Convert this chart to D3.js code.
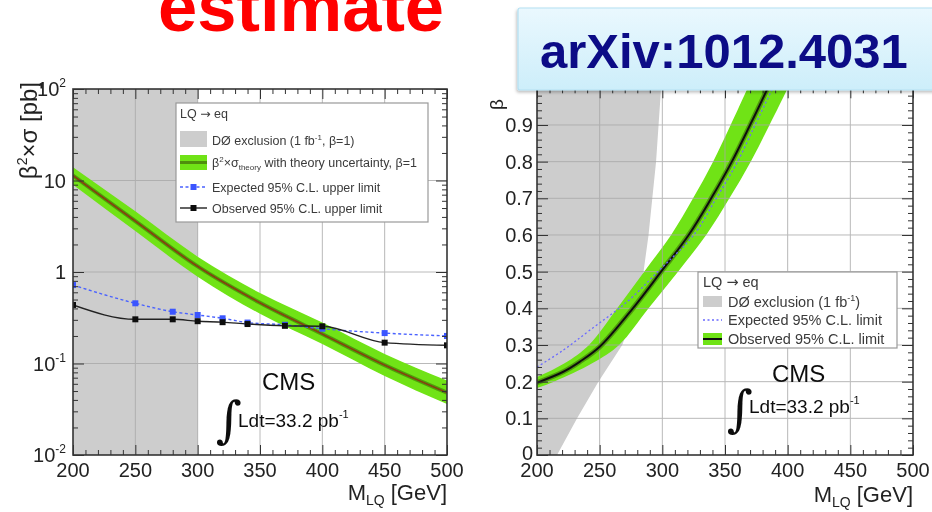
<!DOCTYPE html>
<html><head><meta charset="utf-8">
<script src="https://cdn.jsdelivr.net/npm/d3@7"></script>
<style>
html,body{margin:0;padding:0;background:#fff;}
svg{display:block;font-family:"Liberation Sans",Arial,Helvetica,sans-serif;}
</style>
</head><body><script>
// ---------- data ----------
const massTicks = [200, 250, 300, 350, 400, 450, 500];

// Left panel: beta^2 x sigma limits (pb) vs M_LQ (GeV)
const limitMass    = [200, 250, 280, 300, 320, 340, 370, 400, 450, 500];
const expectedXsec = [0.72, 0.455, 0.368, 0.339, 0.312, 0.28, 0.265, 0.24, 0.215, 0.2];
const observedXsec = [0.436, 0.304, 0.304, 0.29, 0.283, 0.27, 0.258, 0.255, 0.169, 0.158];
const theoryMass     = [200, 250, 300, 350, 400, 450, 500];
const theoryXsec     = [11.3, 3.6, 1.15, 0.46, 0.21, 0.096, 0.048];
const theoryXsecHigh = [14.0, 4.6, 1.47, 0.59, 0.28, 0.127, 0.065];
const theoryXsecLow  = [9.0, 2.8, 0.89, 0.35, 0.163, 0.073, 0.036];
const d0ExcludedMass = [200, 300];   // D0 exclusion at beta = 1

const leftYTickValues = [0.01, 0.1, 1, 10, 100];
const leftYTickBase   = ["10", "10", "1", "10", "10"];
const leftYTickExp    = ["-2", "-1", "", "", "2"];

// Right panel: beta limit vs M_LQ (GeV)
const observedBetaMass = [200, 221, 234, 250, 276.5, 299, 321, 339, 355.5, 370, 384, 390.5];
const observedBeta     = [0.197, 0.227, 0.254, 0.295, 0.4, 0.5, 0.6, 0.7, 0.8, 0.9, 1.0, 1.05];
const expectedBetaMass = [200, 221, 242, 272.6, 297.6, 325, 343, 360, 374, 388];
const expectedBeta     = [0.24, 0.286, 0.34, 0.42, 0.504, 0.6, 0.7, 0.8, 0.9, 1.0];
// theory-uncertainty band around the observed limit, edges given at common beta levels
const bandBeta      = [0.17, 0.2, 0.25, 0.3, 0.4, 0.5, 0.6, 0.7, 0.8, 0.9, 1.0, 1.05];
const bandUpperMass = [167, 191.5, 222, 241.5, 264, 285.5, 307, 324.5, 340.5, 354.5, 368, 374.5];
const bandLowerMass = [189, 213.5, 244, 265.5, 289, 312.5, 335, 353.5, 370.5, 385.5, 400, 406.5];
// D0 excluded region (1 fb^-1)
const d0BetaMass = [200, 216, 232, 249, 268, 279, 285, 289, 292, 295, 297, 299, 200];
const d0Beta     = [0, 0, 0.1, 0.2, 0.3, 0.4, 0.5, 0.6, 0.7, 0.8, 0.9, 1.0, 1.0];
const rightYTickValues = [0, 0.1, 0.2, 0.3, 0.4, 0.5, 0.6, 0.7, 0.8, 0.9];

// ---------- setup ----------
const W = 932, H = 512;
const svg = d3.select("body").append("svg").attr("width", W).attr("height", H);
const defs = svg.append("defs");
defs.append("filter").attr("id", "soft").attr("x", "-5%").attr("y", "-5%").attr("width", "110%").attr("height", "110%")
  .append("feGaussianBlur").attr("stdDeviation", 0.45);

const zip = (a, b) => a.map((v, i) => [v, b[i]]);

const xL = d3.scaleLinear().domain([200, 500]).range([73, 447]);
const yL = d3.scaleLog().domain([0.01, 100]).range([455, 89]);
const xR = d3.scaleLinear().domain([200, 500]).range([537, 913]);
const yR = d3.scaleLinear().domain([0, 1]).range([455, 88.3]);

function addClip(id, x, y) {
  defs.append("clipPath").attr("id", id).append("rect")
    .attr("x", x.range()[0]).attr("y", y.range()[1])
    .attr("width", x.range()[1] - x.range()[0]).attr("height", y.range()[0] - y.range()[1]);
}
addClip("clipL", xL, yL);
addClip("clipR", xR, yR);

const GRID = "#a8a8a8", AXIS = "#333";

function grid(g, x, y, xv, yv) {
  const gg = g.append("g").attr("stroke", GRID).attr("stroke-width", 1).attr("opacity", 0.8);
  gg.selectAll(".gx").data(xv).join("line").attr("x1", d => x(d)).attr("x2", d => x(d))
    .attr("y1", y.range()[0]).attr("y2", y.range()[1]);
  gg.selectAll(".gy").data(yv).join("line").attr("y1", d => y(d)).attr("y2", d => y(d))
    .attr("x1", x.range()[0]).attr("x2", x.range()[1]);
}

function ticksAndFrame(g, x, y, yMajor, yMinor) {
  const [x0, x1] = x.range(), [y1, y0] = y.range();
  const xMinor = x.ticks(30).filter(v => !massTicks.includes(v));
  const strip = s => { s.select(".domain").remove(); s.selectAll("line").attr("stroke", AXIS); };
  const put = (axis, tx, ty) => g.append("g").attr("transform", `translate(${tx},${ty})`).call(axis).call(strip);
  // bottom / top
  put(d3.axisBottom(x).tickValues(massTicks).tickSize(-10).tickFormat(""), 0, y1);
  put(d3.axisBottom(x).tickValues(xMinor).tickSize(-5).tickFormat(""), 0, y1);
  put(d3.axisTop(x).tickValues(massTicks).tickSize(-10).tickFormat(""), 0, y0);
  put(d3.axisTop(x).tickValues(xMinor).tickSize(-5).tickFormat(""), 0, y0);
  // left / right
  put(d3.axisLeft(y).tickValues(yMajor).tickSize(-11).tickFormat(""), x0, 0);
  put(d3.axisLeft(y).tickValues(yMinor).tickSize(-5).tickFormat(""), x0, 0);
  put(d3.axisRight(y).tickValues(yMajor).tickSize(-11).tickFormat(""), x1, 0);
  put(d3.axisRight(y).tickValues(yMinor).tickSize(-5).tickFormat(""), x1, 0);
  g.append("rect").attr("x", x0).attr("y", y0).attr("width", x1 - x0).attr("height", y1 - y0)
    .attr("fill", "none").attr("stroke", AXIS).attr("stroke-width", 1.6);
  // x tick labels
  g.append("g").selectAll("text").data(massTicks).join("text")
    .attr("x", d => x(d)).attr("y", 477).attr("text-anchor", "middle")
    .attr("font-size", 20).attr("fill", "#222").text(d => d);
}

function xTitle(g, xEnd, yBase) {
  const t = g.append("text").attr("x", xEnd).attr("y", yBase).attr("text-anchor", "end")
    .attr("font-size", 22).attr("fill", "#222");
  t.append("tspan").text("M");
  t.append("tspan").attr("font-size", 14).attr("dy", 5).text("LQ");
  t.append("tspan").attr("dy", -5).text(" [GeV]");
}

function lumiLabel(g, xCms, yCms, xInt, yInt, yText) {
  g.append("text").attr("x", xCms).attr("y", yCms).attr("font-size", 24).attr("fill", "#111").text("CMS");
  g.append("text").attr("x", xInt).attr("y", yInt).attr("font-size", 50)
    .attr("font-family", "DejaVu Serif, serif").attr("fill", "#111").text("∫");
  const t = g.append("text").attr("x", xInt + 22).attr("y", yText).attr("font-size", 19).attr("fill", "#111");
  t.append("tspan").text("Ldt=33.2 pb");
  t.append("tspan").attr("font-size", 11).attr("dy", -9).text("-1");
}

// "LQ → eq" header line of a legend
function channelLabel(parent, x, y, size) {
  const t = parent.append("text").attr("x", x).attr("y", y).attr("font-size", size).attr("fill", "#3a3a3a");
  t.append("tspan").text("LQ ");
  t.append("tspan").attr("font-family", "DejaVu Sans, sans-serif").text("→");
  t.append("tspan").text(" eq");
}

// ---------- left panel ----------
const gL = svg.append("g").attr("filter", "url(#soft)");
const plotL = gL.append("g").attr("clip-path", "url(#clipL)");

plotL.append("rect").attr("x", xL(d0ExcludedMass[0])).attr("y", yL.range()[1])
  .attr("width", xL(d0ExcludedMass[1]) - xL(d0ExcludedMass[0]))
  .attr("height", yL.range()[0] - yL.range()[1]).attr("fill", "#cdcdcd");

grid(plotL, xL, yL, [250, 300, 350, 400, 450], [0.1, 1, 10]);

const theoryRows = theoryMass.map((m, i) => ({ m, c: theoryXsec[i], hi: theoryXsecHigh[i], lo: theoryXsecLow[i] }));
plotL.append("path").datum(theoryRows)
  .attr("d", d3.area().x(d => xL(d.m)).y0(d => yL(d.lo)).y1(d => yL(d.hi)).curve(d3.curveMonotoneX))
  .attr("fill", "#6fe313");
plotL.append("path").datum(theoryRows)
  .attr("d", d3.line().x(d => xL(d.m)).y(d => yL(d.c)).curve(d3.curveMonotoneX))
  .attr("fill", "none").attr("stroke", "#4f9a0e").attr("stroke-width", 4);
plotL.append("path").datum(theoryRows)
  .attr("d", d3.line().x(d => xL(d.m)).y(d => yL(d.c)).curve(d3.curveMonotoneX))
  .attr("fill", "none").attr("stroke", "#8b3a12").attr("stroke-width", 1.4);

const lineL = d3.line().x(d => xL(d[0])).y(d => yL(d[1])).curve(d3.curveMonotoneX);
const expL = zip(limitMass, expectedXsec), obsL = zip(limitMass, observedXsec);
plotL.append("path").datum(expL).attr("d", lineL).attr("fill", "none")
  .attr("stroke", "#4a62ff").attr("stroke-width", 1.4).attr("stroke-dasharray", "3,2.5");
plotL.append("path").datum(obsL).attr("d", lineL).attr("fill", "none")
  .attr("stroke", "#222").attr("stroke-width", 1.4);
plotL.append("g").selectAll("rect").data(expL).join("rect")
  .attr("x", d => xL(d[0]) - 3).attr("y", d => yL(d[1]) - 3).attr("width", 6).attr("height", 6).attr("fill", "#3a55ff");
plotL.append("g").selectAll("rect").data(obsL).join("rect")
  .attr("x", d => xL(d[0]) - 3).attr("y", d => yL(d[1]) - 3).attr("width", 6).attr("height", 6).attr("fill", "#111");

const logMinor = yL.ticks().filter(v => !leftYTickValues.some(t => Math.abs(t - v) < 1e-9));
ticksAndFrame(gL, xL, yL, leftYTickValues, logMinor);

// y tick labels with exponents
leftYTickValues.forEach((v, i) => {
  const t = gL.append("text").attr("x", 66).attr("y", yL(v) + 7).attr("text-anchor", "end")
    .attr("font-size", 20).attr("fill", "#222");
  t.append("tspan").text(leftYTickBase[i]);
  if (leftYTickExp[i]) t.append("tspan").attr("font-size", 12).attr("dy", -9).text(leftYTickExp[i]);
});
// y title
const ytL = gL.append("text").attr("transform", "translate(37,82) rotate(-90)").attr("text-anchor", "end")
  .attr("font-size", 24).attr("fill", "#222");
ytL.append("tspan").text("β");
ytL.append("tspan").attr("font-size", 14).attr("dy", -10).text("2");
ytL.append("tspan").attr("dy", 10).text("×σ [pb]");
xTitle(gL, 447, 500);

// left legend
const lg = gL.append("g");
lg.append("rect").attr("x", 176).attr("y", 103).attr("width", 252).attr("height", 119)
  .attr("fill", "#fff").attr("stroke", "#999").attr("stroke-width", 1.2);
const legTxt = (x, y, size) => lg.append("text").attr("x", x).attr("y", y).attr("font-size", size).attr("fill", "#3a3a3a");
channelLabel(lg, 180, 118, 12.5);
lg.append("rect").attr("x", 180).attr("y", 131).attr("width", 27).attr("height", 16).attr("fill", "#cdcdcd");
const l2 = legTxt(212, 145, 12.5); l2.append("tspan").text("DØ exclusion (1 fb");
l2.append("tspan").attr("font-size", 8).attr("dy", -5).text("-1");
l2.append("tspan").attr("dy", 5).text(", β=1)");
lg.append("rect").attr("x", 180).attr("y", 155).attr("width", 27).attr("height", 15).attr("fill", "#6fe313");
lg.append("line").attr("x1", 180).attr("x2", 207).attr("y1", 162.5).attr("y2", 162.5).attr("stroke", "#4f8f10").attr("stroke-width", 3);
const l3 = legTxt(212, 167, 12.5); l3.append("tspan").text("β");
l3.append("tspan").attr("font-size", 8).attr("dy", -5).text("2");
l3.append("tspan").attr("dy", 5).text("×σ");
l3.append("tspan").attr("font-size", 8).attr("dy", 3).text("theory");
l3.append("tspan").attr("dy", -3).text(" with theory uncertainty, β=1");
lg.append("line").attr("x1", 180).attr("x2", 207).attr("y1", 187).attr("y2", 187)
  .attr("stroke", "#4a62ff").attr("stroke-width", 1.4).attr("stroke-dasharray", "3,2.5");
lg.append("rect").attr("x", 190.5).attr("y", 184).attr("width", 6).attr("height", 6).attr("fill", "#3a55ff");
legTxt(212, 192, 12.5).text("Expected 95% C.L. upper limit");
lg.append("line").attr("x1", 180).attr("x2", 207).attr("y1", 208).attr("y2", 208).attr("stroke", "#222").attr("stroke-width", 1.4);
lg.append("rect").attr("x", 190.5).attr("y", 205).attr("width", 6).attr("height", 6).attr("fill", "#111");
legTxt(212, 213, 12.5).text("Observed 95% C.L. upper limit");

lumiLabel(gL, 262, 390, 216, 437, 427);

// ---------- right panel ----------
const gR = svg.append("g").attr("filter", "url(#soft)");
const plotR = gR.append("g").attr("clip-path", "url(#clipR)");
const lineR = d3.line().x(d => xR(d[0])).y(d => yR(d[1]));

plotR.append("path").datum(zip(d0BetaMass, d0Beta)).attr("d", lineR.curve(d3.curveLinear)).attr("fill", "#cdcdcd");

const bandRows = bandBeta.map((b, i) => ({ b, um: bandUpperMass[i], lm: bandLowerMass[i] }));
plotR.append("path").datum(bandRows)
  .attr("d", d3.area().x1(d => xR(d.um)).y1(d => yR(d.b)).x0(d => xR(d.lm)).y0(d => yR(d.b)).curve(d3.curveCatmullRom))
  .attr("fill", "#6fe313");

grid(plotR, xR, yR, [250, 300, 350, 400, 450], [0.1, 0.2, 0.3, 0.4, 0.5, 0.6, 0.7, 0.8, 0.9]);

const smooth = d3.line().x(d => xR(d[0])).y(d => yR(d[1])).curve(d3.curveCatmullRom);
plotR.append("path").datum(zip(observedBetaMass, observedBeta)).attr("d", smooth)
  .attr("fill", "none").attr("stroke", "#4f9a0e").attr("stroke-width", 5);
plotR.append("path").datum(zip(observedBetaMass, observedBeta)).attr("d", smooth)
  .attr("fill", "none").attr("stroke", "#111").attr("stroke-width", 2);
plotR.append("path").datum(zip(expectedBetaMass, expectedBeta)).attr("d", smooth)
  .attr("fill", "none").attr("stroke", "#6a6aff").attr("stroke-width", 1.3).attr("stroke-dasharray", "2,2.5");

const linMinor = yR.ticks(50).filter(v => !rightYTickValues.some(t => Math.abs(t - v) < 1e-9) && Math.abs(v - 1) > 1e-9);
ticksAndFrame(gR, xR, yR, rightYTickValues.concat([1]), linMinor);

gR.append("g").selectAll("text").data(rightYTickValues).join("text")
  .attr("x", 533).attr("y", d => yR(d) + (d === 0 ? 5 : 7)).attr("text-anchor", "end")
  .attr("font-size", 20).attr("fill", "#222").text(d => d === 0 ? "0" : d3.format(".1f")(d));
gR.append("text").attr("transform", "translate(503,99) rotate(-90)").attr("text-anchor", "end")
  .attr("font-size", 19).attr("fill", "#222").text("β");
xTitle(gR, 913, 502);

// right legend
const rg = gR.append("g");
rg.append("rect").attr("x", 698).attr("y", 272).attr("width", 199).attr("height", 76)
  .attr("fill", "#fff").attr("stroke", "#999").attr("stroke-width", 1.2);
const rTxt = (x, y) => rg.append("text").attr("x", x).attr("y", y).attr("font-size", 14.5).attr("fill", "#3a3a3a");
channelLabel(rg, 703, 287, 14.5);
rg.append("rect").attr("x", 703).attr("y", 296).attr("width", 19).attr("height", 11).attr("fill", "#cdcdcd");
const r2 = rTxt(728, 307); r2.append("tspan").text("DØ exclusion (1 fb");
r2.append("tspan").attr("font-size", 9).attr("dy", -6).text("-1");
r2.append("tspan").attr("dy", 6).text(")");
rg.append("line").attr("x1", 703).attr("x2", 722).attr("y1", 320).attr("y2", 320)
  .attr("stroke", "#6a6aff").attr("stroke-width", 1.3).attr("stroke-dasharray", "2,2.5");
rTxt(728, 325).text("Expected 95% C.L. limit");
rg.append("rect").attr("x", 703).attr("y", 333).attr("width", 19).attr("height", 12).attr("fill", "#6fe313");
rg.append("line").attr("x1", 703).attr("x2", 722).attr("y1", 339).attr("y2", 339).attr("stroke", "#111").attr("stroke-width", 2);
rTxt(728, 344).text("Observed 95% C.L. limit");

lumiLabel(gR, 772, 382, 727, 426, 413);

// ---------- annotations ----------
svg.append("text").attr("x", 158).attr("y", 31).attr("font-size", 70.5).attr("font-weight", "bold")
  .attr("fill", "#ff0000").text("estimate");

const grad = defs.append("linearGradient").attr("id", "boxGrad").attr("x1", 0).attr("x2", 0).attr("y1", 0).attr("y2", 1);
grad.append("stop").attr("offset", "0%").attr("stop-color", "#eaf8fe");
grad.append("stop").attr("offset", "100%").attr("stop-color", "#cdeefa");
defs.append("filter").attr("id", "shadow").append("feDropShadow")
  .attr("dx", -1).attr("dy", 2).attr("stdDeviation", 1.5).attr("flood-color", "#000").attr("flood-opacity", 0.25);
svg.append("rect").attr("x", 518).attr("y", 8).attr("width", 430).attr("height", 82).attr("rx", 2)
  .attr("fill", "url(#boxGrad)").attr("stroke", "#b3dff2").attr("stroke-width", 1.2).attr("filter", "url(#shadow)");
svg.append("text").attr("x", 540).attr("y", 68).attr("font-size", 49).attr("font-weight", "bold")
  .attr("fill", "#0c0c86").text("arXiv:1012.4031");
</script></body></html>
